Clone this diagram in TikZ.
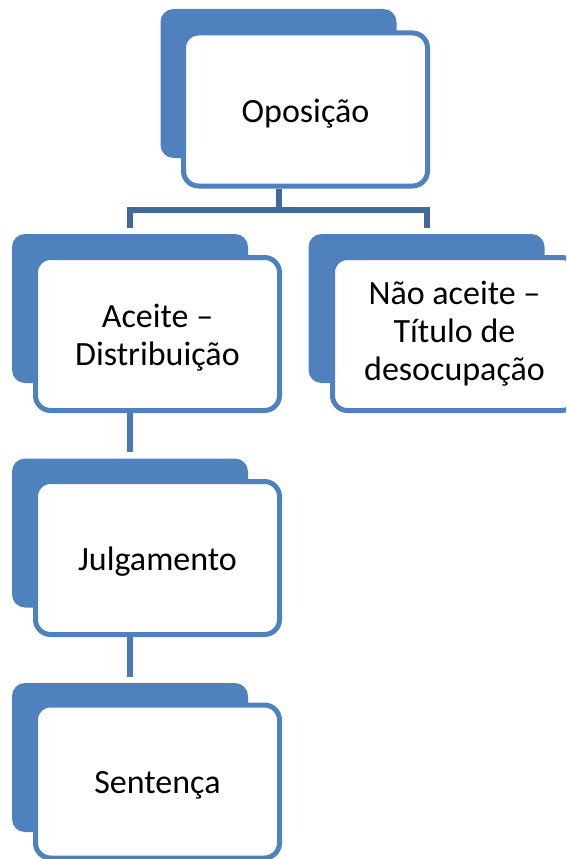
\documentclass[tikz,border=0pt]{standalone}
\usepackage{fontspec}
\setmainfont{Carlito}
\definecolor{acc}{HTML}{4F81BD}
\definecolor{connAcol}{HTML}{41699C}
\definecolor{connBcol}{HTML}{4A79B3}
\newcommand{\dropline}[1]{\raisebox{-4pt}[\height][\depth]{#1}}
\begin{document}
\begin{tikzpicture}[x=1pt,y=-1pt,
  backbox/.style={fill=acc, draw=none, rounded corners=13pt, minimum width=236pt, minimum height=149pt, inner sep=0pt},
  frontbox/.style={fill=white, draw=acc, line width=5pt, rounded corners=15pt, minimum width=244pt, minimum height=153pt, inner sep=0pt, align=center, font=\fontsize{34}{38}\selectfont},
  connA/.style={draw=connAcol, line width=6pt},
  connB/.style={draw=connBcol, line width=6pt}]
\useasboundingbox (0,0) rectangle (566,859);
\clip (0,0) rectangle (566,859);
\coordinate (jy) at (0,210);
\node[backbox] (b1) at (278.5,83.5) {};
\node[backbox] (b2) at (130,308.5) {};
\node[backbox] (b3) at (426.5,308.5) {};
\node[backbox] (b4) at (130,533) {};
\node[backbox] (b5) at (130,757.5) {};
\node[frontbox] (f1) at (305.5,109.5) {\dropline{Oposição}};
\node[frontbox] (f2) at (157.5,334) {\dropline{Aceite –}\\\dropline{Distribuição}};
\node[frontbox] (f3) at (454.5,334) {Não aceite –\\Título de\\desocupação};
\node[frontbox] (f4) at (157.5,558) {\dropline{Julgamento}};
\node[frontbox] (f5) at (157.5,781.5) {\dropline{Sentença}};
\draw[connA] (b1.center |- f1.south) -- (b1.center |- jy);
\draw[connA] ([yshift=6pt]b2.north) -- (b2.center |- jy) -- (b3.center |- jy) -- ([yshift=6pt]b3.north);
\draw[connB] (b2.center |- f2.south) -- ([yshift=6pt]b4.north);
\draw[connB] (b4.center |- f4.south) -- ([yshift=6pt]b5.north);
\end{tikzpicture}
\end{document}
